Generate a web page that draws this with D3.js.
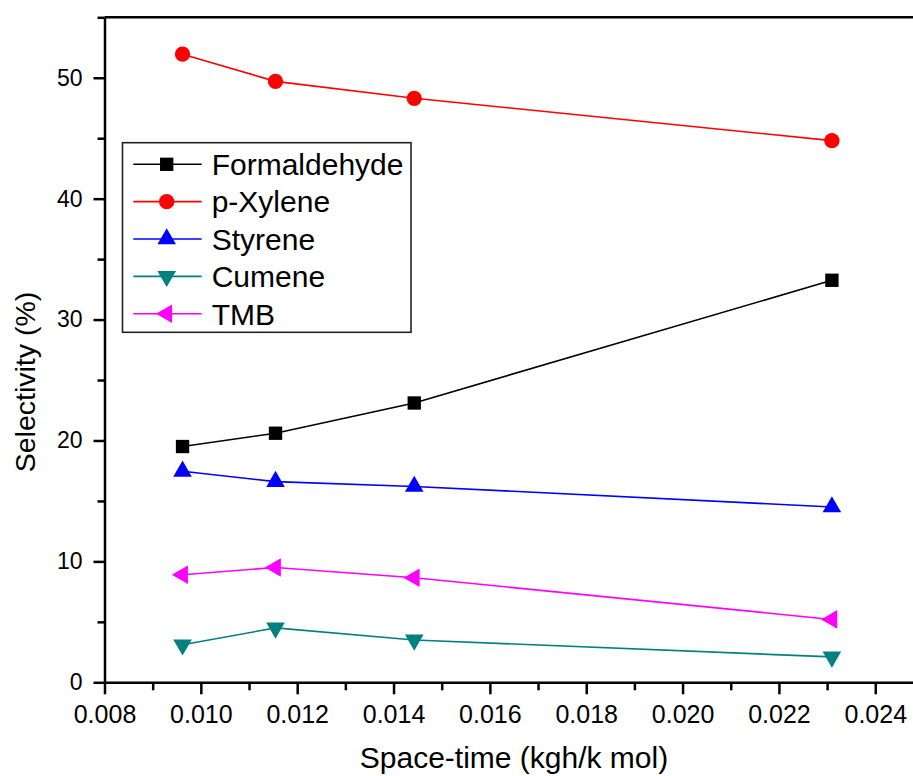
<!DOCTYPE html>
<html><head><meta charset="utf-8">
<script src="https://cdn.jsdelivr.net/npm/d3@7"></script>
<style>
html,body{margin:0;padding:0;background:#fff;}
svg{display:block;font-family:"Liberation Sans",Arial,sans-serif;}
</style></head>
<body>
<svg id="chart" width="913" height="776"></svg>
<script>
// ---- data ----
const spaceTime = [0.00962, 0.01155, 0.01443, 0.02310];
const formaldehyde = [19.5, 20.6, 23.1, 33.25];
const pXylene = [51.95, 49.7, 48.3, 44.8];
const styrene = [17.45, 16.6, 16.2, 14.5];
const cumene = [3.1, 4.5, 3.5, 2.1];
const tmb = [8.9, 9.5, 8.65, 5.2];
const seriesNames = ["Formaldehyde", "p-Xylene", "Styrene", "Cumene", "TMB"];
const xTicks = [0.008, 0.010, 0.012, 0.014, 0.016, 0.018, 0.020, 0.022, 0.024];
const xMinor = [0.009, 0.011, 0.013, 0.015, 0.017, 0.019, 0.021, 0.023];
const yTicks = [0, 10, 20, 30, 40, 50];
const yMinor = [5, 15, 25, 35, 45, 55];

const seriesValues = [formaldehyde, pXylene, styrene, cumene, tmb];
const colors = ["#000000", "#ff0000", "#0000ff", "#008080", "#ff00ff"];
const markers = ["square", "circle", "up", "down", "left"];

const svg = d3.select("#chart");
const x = d3.scaleLinear().domain([0.008, 0.0248]).range([104.5, 913.8]);
const y = d3.scaleLinear().domain([0, 55]).range([682.3, 17.3]);

function markerPath(type) {
  if (type === "square") return d3.symbol(d3.symbolSquare, 178)();
  if (type === "circle") return d3.symbol(d3.symbolCircle, 185)();
  return d3.symbol(d3.symbolTriangle, 150)();
}
function markerRot(type) {
  if (type === "down") return 180;
  if (type === "left") return -90;
  return 0;
}

// top frame line
svg.append("line").attr("x1", x.range()[0]).attr("x2", 913).attr("y1", y(55)).attr("y2", y(55))
  .attr("stroke", "#000").attr("stroke-width", 2.5);

// axes
const xAxis = svg.append("g").attr("transform", `translate(0,${y(0)})`)
  .call(d3.axisBottom(x).tickValues(xTicks).tickFormat(d3.format(".3f")).tickSizeInner(12).tickSizeOuter(0).tickPadding(10.5));
svg.append("g").attr("transform", `translate(0,${y(0)})`)
  .call(d3.axisBottom(x).tickValues(xMinor).tickFormat("").tickSizeInner(8).tickSizeOuter(0))
  .select(".domain").remove();
const yAxis = svg.append("g").attr("transform", `translate(${x.range()[0]},0)`)
  .call(d3.axisLeft(y).tickValues(yTicks).tickFormat(d3.format("d")).tickSizeInner(11).tickSizeOuter(0).tickPadding(11));
svg.append("g").attr("transform", `translate(${x.range()[0]},0)`)
  .call(d3.axisLeft(y).tickValues(yMinor).tickFormat("").tickSizeInner(7).tickSizeOuter(0))
  .select(".domain").remove();
svg.selectAll(".tick line").attr("stroke", "#000").attr("stroke-width", 2.5);
svg.selectAll(".domain").attr("stroke", "#000").attr("stroke-width", 2.5);
svg.selectAll("g text").attr("font-family", "Liberation Sans, Arial, sans-serif").attr("fill", "#000");
xAxis.selectAll(".tick text").attr("font-size", "25px");
yAxis.selectAll(".tick text").attr("font-size", "23px");

// axis titles
svg.append("text").attr("x", 514).attr("y", 768).attr("text-anchor", "middle")
  .attr("font-size", "30px").attr("fill", "#000").text("Space-time (kgh/k mol)");
svg.append("text").attr("transform", "translate(35,382) rotate(-90)").attr("text-anchor", "middle")
  .attr("font-size", "28.5px").attr("fill", "#000").text("Selectivity (%)");

// series
const line = d3.line().x(d => x(d[0])).y(d => y(d[1]));
seriesValues.forEach((vals, i) => {
  const pts = spaceTime.map((t, j) => [t, vals[j]]);
  svg.append("path").datum(pts).attr("d", line).attr("fill", "none")
    .attr("stroke", colors[i]).attr("stroke-width", 1.6);
  svg.append("g").selectAll("path").data(pts).join("path")
    .attr("d", markerPath(markers[i]))
    .attr("transform", d => `translate(${x(d[0])},${y(d[1])}) rotate(${markerRot(markers[i])})`)
    .attr("fill", colors[i]);
});

// legend
const lg = svg.append("g");
lg.append("rect").attr("x", 122.5).attr("y", 142.7).attr("width", 288.5).attr("height", 189.6)
  .attr("fill", "#fff").attr("stroke", "#222").attr("stroke-width", 1.6);
seriesNames.forEach((name, i) => {
  const cy = 164.3 + i * 37.35;
  lg.append("line").attr("x1", 133.3).attr("x2", 201.7).attr("y1", cy).attr("y2", cy)
    .attr("stroke", colors[i]).attr("stroke-width", 1.6);
  lg.append("path").attr("d", markerPath(markers[i]))
    .attr("transform", `translate(166.7,${cy}) rotate(${markerRot(markers[i])})`)
    .attr("fill", colors[i]);
  lg.append("text").attr("x", 211.7).attr("y", cy).attr("dy", "0.36em")
    .attr("font-size", "30px").attr("fill", "#000").text(name);
});
</script>
</body></html>
